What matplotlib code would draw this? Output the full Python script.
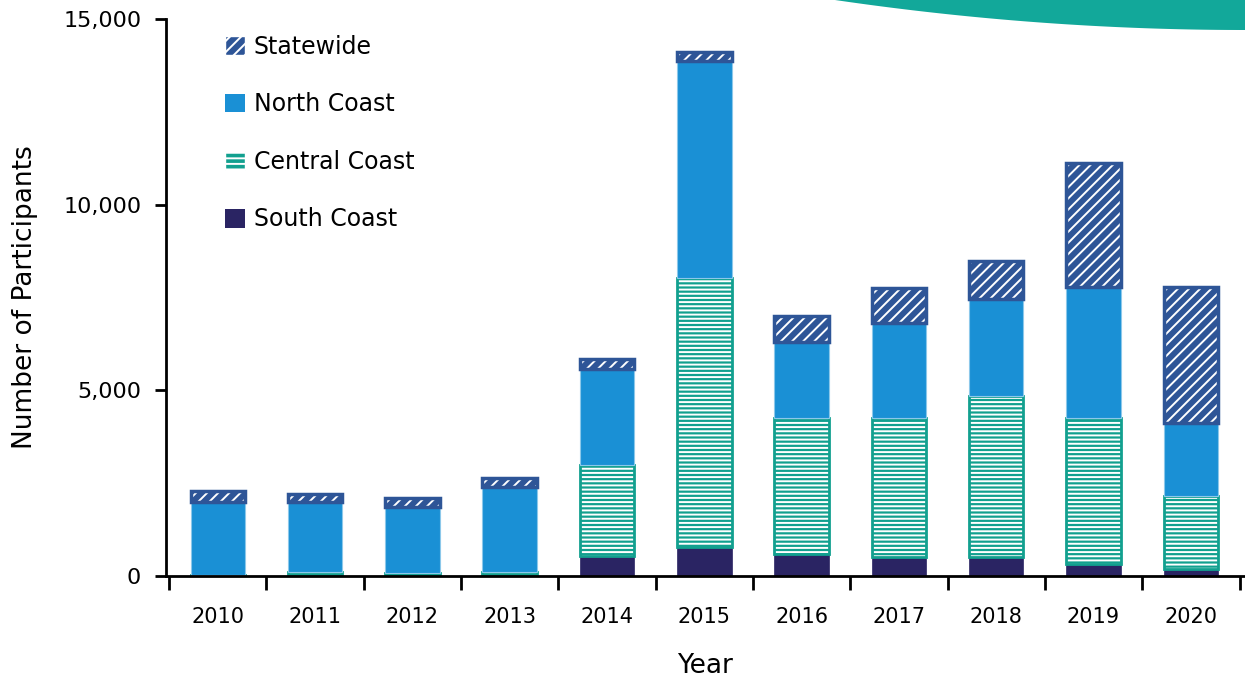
import numpy as np
import matplotlib
matplotlib.use("Agg")
from matplotlib import pyplot as plt
from matplotlib.patches import Polygon, Patch

plt.rcParams['font.family'] = ['DejaVu Sans']
plt.rcParams['hatch.linewidth'] = 1.4

# data
years = ['2010', '2011', '2012', '2013', '2014', '2015', '2016', '2017', '2018', '2019', '2020']
south = [0, 0, 0, 0, 540, 780, 590, 510, 510, 320, 190]
central = [30, 110, 80, 110, 2450, 7245, 3665, 3745, 4340, 3935, 1965]
north = [1963, 1883, 1778, 2287, 2585, 5844, 2047, 2559, 2612, 3528, 1966]
statewide = [300, 215, 242, 243, 269, 243, 700, 943, 1024, 3340, 3662]

c_state = '#2E5597'
c_north = '#1A90D5'
c_central = '#12A08F'
c_south = '#2A2463'

fig = plt.figure(figsize=(12.45, 6.8), dpi=100)
ax = fig.add_axes([0.1335, 0.153, 0.866, 0.819])

x = np.arange(len(years))
w = 0.56
b1 = np.array(south)
b2 = b1 + np.array(central)
b3 = b2 + np.array(north)

ax.bar(x, south, w, color=c_south, edgecolor=c_south, linewidth=0.5)
ax.bar(x, central, w, bottom=b1, color=c_central, edgecolor='white', hatch='----', linewidth=0)
ax.bar(x, central, w, bottom=b1, fill=False, edgecolor=c_central, linewidth=2)
ax.bar(x, north, w, bottom=b2, color=c_north, edgecolor='#8CC8EA', linewidth=0.8)
ax.bar(x, statewide, w, bottom=b3, color=c_state, edgecolor='white', hatch='///', linewidth=0)
ax.bar(x, statewide, w, bottom=b3, fill=False, edgecolor=c_state, linewidth=2.5)

ax.set_xlim(-0.53, len(years) - 0.45)
ax.set_ylim(0, 15000)
ax.set_xticks(x)
ax.set_xticklabels(years)
ax.set_xticks(np.arange(-0.5, len(years), 1), minor=True)
ax.tick_params(axis='x', which='major', length=0, labelsize=15, pad=22)
ax.tick_params(axis='x', which='minor', length=10, width=2, color='black')
ax.set_yticks([0, 5000, 10000, 15000])
ax.set_yticklabels(['0', '5,000', '10,000', '15,000'])
ax.tick_params(axis='y', length=8, width=2, labelsize=16, pad=10)
for s in ['top', 'right']:
    ax.spines[s].set_visible(False)
ax.spines['left'].set_linewidth(2)
ax.spines['bottom'].set_linewidth(2)

ax.set_xlabel('Year', fontsize=19, labelpad=19)
ax.set_ylabel('Number of Participants', fontsize=19, labelpad=18)

handles = [
    Patch(facecolor=c_state, edgecolor='white', hatch='///', label='Statewide'),
    Patch(facecolor=c_north, label='North Coast'),
    Patch(facecolor=c_central, edgecolor='white', hatch='---', label='Central Coast'),
    Patch(facecolor=c_south, label='South Coast'),
]
ax.legend(handles=handles, loc='upper left', bbox_to_anchor=(0.035, 1.01), frameon=False,
          fontsize=17, labelspacing=1.42, handlelength=0.85, handleheight=0.85, handletextpad=0.35)

# teal arc decoration in the top right corner
t = np.linspace(0, 1, 60)
xs = 835 + t * 410
ys = 680 - 30 * (1 - (1 - t) ** 2.0)
pts = np.column_stack([np.r_[xs, 1245, 835], np.r_[ys, 680, 680]]) / [1245, 680]
fig.patches.append(Polygon(pts, closed=True, transform=fig.transFigure,
                           facecolor='#12A89A', edgecolor='none', zorder=5))

fig.savefig('out.png', dpi=100)
